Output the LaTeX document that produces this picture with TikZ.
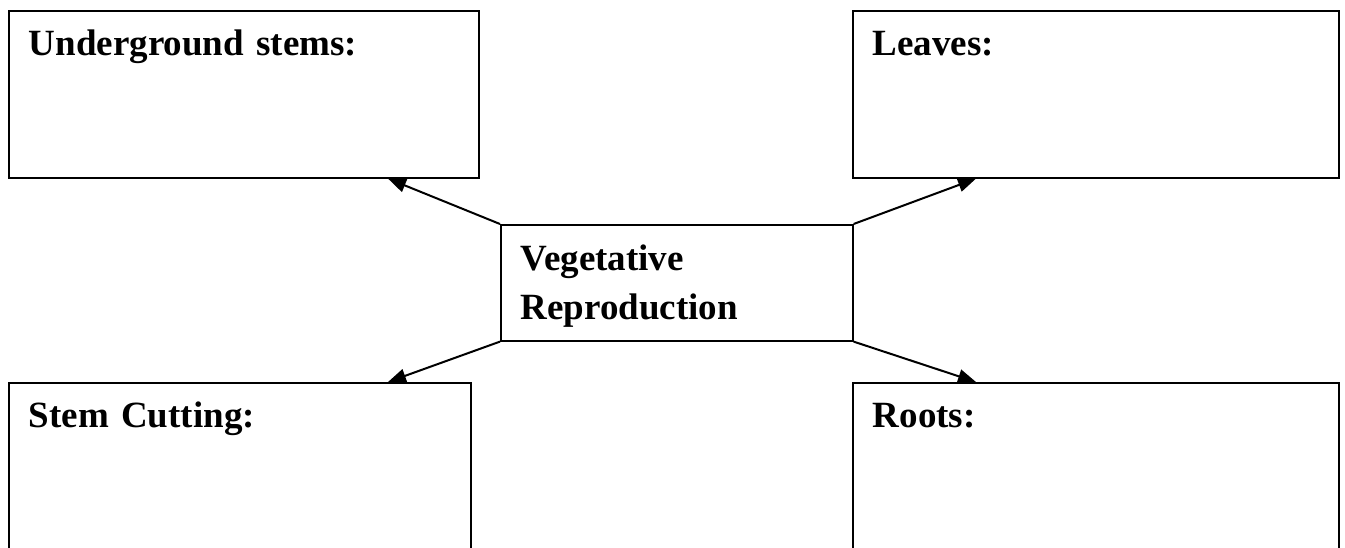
\documentclass[tikz,border=0pt]{standalone}
\usepackage{fontspec}
\setmainfont{Liberation Serif}
\usetikzlibrary{arrows.meta}

\begin{document}
\begin{tikzpicture}[
    x=1pt, y=-1pt,
    every node/.style={font=\fontsize{37}{49}\selectfont\bfseries},
    >={Triangle[length=18pt,width=14pt]},
    card/.style={draw, line width=1.6pt, anchor=north west, align=left,
        inner ysep=0pt, inner xsep=20pt, text height=45pt},
    arr/.style={->, line width=2pt},
]

% Page frame
\useasboundingbox (0,0) rectangle (1345,547);
\clip (0,0) rectangle (1345,547);

% === Centre box ===
\node[card, text width=312pt, text height=46pt, text depth=70pt]
    (centre) at (500,224) {Vegetative\\Reproduction};

% === Upper boxes ===
\node[card, text width=430pt, text depth=122pt] (stems) at (8,10) {Underground stems:};
\node[card, text width=446pt, text depth=122pt] (leaves) at (852,10) {Leaves:};

% === Lower boxes (cut off by the page edge) ===
\node[card, text width=422pt, text depth=170pt] (cutting) at (8,382) {Stem Cutting:};
\node[card, text width=446pt, text depth=170pt] (roots) at (852,382) {Roots:};

% === Arrows from the corners of the centre box ===
\draw[arr] (centre.north west) -- ([xshift=380pt]stems.south west);
\draw[arr] (centre.north east) -- ([xshift=124pt]leaves.south west);
\draw[arr] (centre.south west) -- ([xshift=380pt]cutting.north west);
\draw[arr] (centre.south east) -- ([xshift=124pt]roots.north west);

\end{tikzpicture}
\end{document}
